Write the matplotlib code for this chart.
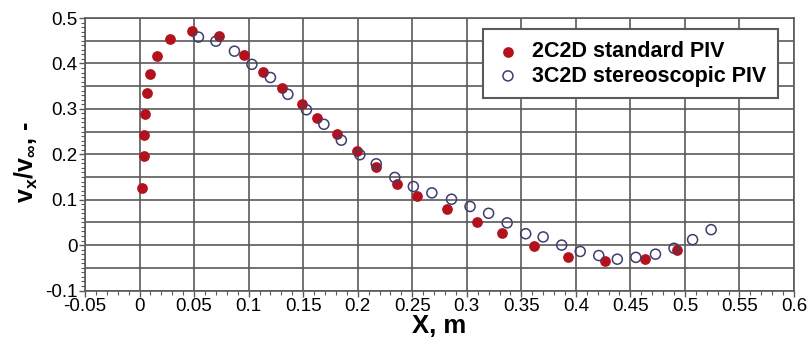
import numpy as np
import matplotlib.pyplot as plt
from matplotlib.ticker import MultipleLocator

# 2C2D standard PIV (filled red)
x_std = [0.002, 0.004, 0.004, 0.005, 0.007, 0.010, 0.016, 0.028, 0.048, 0.073,
         0.096, 0.113, 0.131, 0.149, 0.163, 0.181, 0.199, 0.217, 0.236, 0.254,
         0.282, 0.309, 0.332, 0.362, 0.393, 0.427, 0.463, 0.493]
y_std = [0.126, 0.196, 0.242, 0.288, 0.334, 0.376, 0.416, 0.453, 0.472, 0.460,
         0.418, 0.382, 0.347, 0.311, 0.280, 0.244, 0.207, 0.172, 0.135, 0.108,
         0.079, 0.051, 0.026, -0.003, -0.027, -0.036, -0.031, -0.010]

# 3C2D stereoscopic PIV (open circles)
x_ste = [0.054, 0.070, 0.087, 0.103, 0.120, 0.136, 0.153, 0.169, 0.185, 0.202,
         0.217, 0.234, 0.251, 0.268, 0.286, 0.303, 0.320, 0.337, 0.354, 0.370,
         0.387, 0.404, 0.421, 0.438, 0.455, 0.473, 0.490, 0.507, 0.524]
y_ste = [0.458, 0.449, 0.427, 0.398, 0.369, 0.332, 0.298, 0.266, 0.231, 0.199,
         0.179, 0.149, 0.129, 0.115, 0.101, 0.085, 0.070, 0.049, 0.025, 0.018,
         0.000, -0.014, -0.023, -0.031, -0.027, -0.020, -0.007, 0.012, 0.034]

x_ticks = ['-0.05', '0', '0.05', '0.1', '0.15', '0.2', '0.25', '0.3',
           '0.35', '0.4', '0.45', '0.5', '0.55', '0.6']
y_ticks = ['-0.1', '0', '0.1', '0.2', '0.3', '0.4', '0.5']

plt.rcParams['font.family'] = ['Liberation Sans', 'DejaVu Sans']
plt.rcParams['mathtext.fontset'] = 'custom'
plt.rcParams['mathtext.rm'] = 'Liberation Sans'
plt.rcParams['mathtext.bf'] = 'Liberation Sans:bold'

fig = plt.figure(figsize=(8.08, 3.38), dpi=100)
ax = fig.add_axes([0.1052, 0.1405, 0.8775, 0.8062])

ax.scatter(x_std, y_std, s=45, color='#b3121c', edgecolors='#b3121c', zorder=3,
           label='2C2D standard PIV')
ax.scatter(x_ste, y_ste, s=52, facecolors='none', edgecolors='#3c3f6e', linewidths=1.1,
           zorder=3, label='3C2D stereoscopic PIV')

ax.set_xlim(-0.05, 0.6)
ax.set_ylim(-0.1, 0.5)
ax.set_xticks(np.arange(-0.05, 0.601, 0.05))
ax.set_xticklabels(x_ticks)
ax.set_yticks(np.arange(-0.1, 0.501, 0.1))
ax.set_yticklabels(y_ticks)
ax.xaxis.set_minor_locator(MultipleLocator(0.01))
ax.yaxis.set_minor_locator(MultipleLocator(0.01))

# grid every 0.05 in both directions
for xv in np.arange(-0.05, 0.601, 0.05):
    ax.axvline(xv, color='#5a5a5a', lw=1.2, zorder=1)
for yv in np.arange(-0.1, 0.501, 0.05):
    ax.axhline(yv, color='#5a5a5a', lw=1.2, zorder=1)

for s in ax.spines.values():
    s.set_color('#5a5a5a')
    s.set_linewidth(1.2)

ax.tick_params(which='major', direction='out', length=4, width=1.0, color='#5a5a5a',
               labelsize=13.5, pad=1.5)
ax.tick_params(which='minor', direction='out', length=3, width=0.8, color='#5a5a5a')

ax.set_xlabel('X, m', fontsize=18.5, fontweight='bold', va='baseline')
ax.xaxis.set_label_coords(0.5, -0.155)
ax.set_ylabel(r'$\mathbf{v_x/v_\infty}$, -', fontsize=18, fontweight='bold', va='center')
ax.yaxis.set_label_coords(-0.083, 0.47)

leg = ax.legend(loc='upper right', bbox_to_anchor=(0.977, 0.958), borderaxespad=0,
                prop={'weight': 'bold', 'size': 15.5}, frameon=True, fancybox=False,
                handletextpad=0.5, borderpad=0.55, labelspacing=0.15,
                handlelength=1.2, markerscale=1.0)
leg.get_frame().set_edgecolor('#5a5a5a')
leg.get_frame().set_linewidth(1.5)
leg.get_frame().set_alpha(1)

fig.savefig('out.png', dpi=100)
